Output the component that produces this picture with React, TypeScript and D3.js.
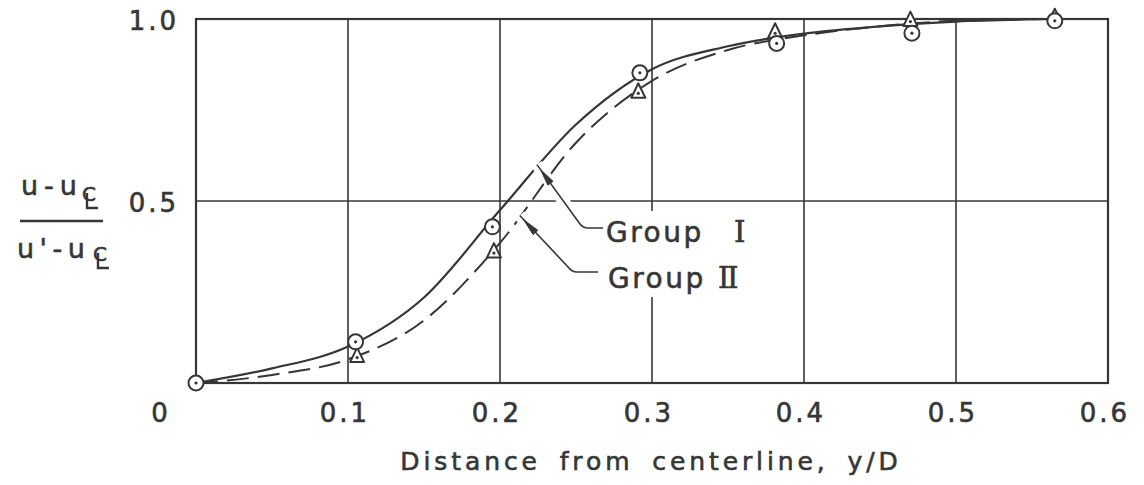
import React from 'react';
import * as d3 from 'd3';

// Normalised velocity defect across the jet, two groups of runs.
const W = 1144;
const H = 485;

const xTickValues = [0, 0.1, 0.2, 0.3, 0.4, 0.5, 0.6];
const xTickLabels = ['0', '0.1', '0.2', '0.3', '0.4', '0.5', '0.6'];
const xGridValues = [0.1, 0.2, 0.3, 0.4, 0.5];
const yTickValues = [0.5, 1.0];
const yTickLabels = ['0.5', '1.0'];
const yGridValues = [0.5];

// Measured points, Group I (circles)
const groupIX = [0, 0.105, 0.195, 0.292, 0.382, 0.471, 0.565];
const groupIY = [0, 0.113, 0.429, 0.852, 0.933, 0.961, 0.995];
// Measured points, Group II (triangles)
const groupIIX = [0.106, 0.196, 0.291, 0.381, 0.47, 0.565];
const groupIIY = [0.074, 0.361, 0.8, 0.965, 0.997, 1.005];

// Faired curves through each group
const fitIX = [0, 0.05, 0.1, 0.15, 0.2, 0.25, 0.3, 0.35, 0.4, 0.45, 0.5, 0.565];
const fitIY = [0, 0.04, 0.1, 0.235, 0.475, 0.71, 0.862, 0.925, 0.96, 0.98, 0.993, 1.0];
const fitIIX = [0, 0.05, 0.1, 0.15, 0.2, 0.25, 0.3, 0.35, 0.4, 0.45, 0.5, 0.565];
const fitIIY = [0, 0.022, 0.065, 0.172, 0.385, 0.66, 0.83, 0.915, 0.955, 0.98, 0.995, 1.0];

// Label arrows: point on curve the arrow touches
const arrowTargetsX = [0.2243, 0.213];
const arrowTargetsY = [0.6, 0.46];
const seriesNames = ['Group', 'Group'];
const seriesNumerals = ['I', 'II'];

const xTitle = 'Distance from centerline, y/D';

const INK = '#363636';
const FONT = '"DejaVu Sans", sans-serif';
const SERIF = '"DejaVu Serif", serif';

export default function App() {
  const x = d3.scaleLinear().domain([0, 0.6]).range([196, 1108]);
  const y = d3.scaleLinear().domain([0, 1]).range([383, 19]);

  const lineGen = d3
    .line<[number, number]>()
    .x((d) => x(d[0]))
    .y((d) => y(d[1]))
    .curve(d3.curveMonotoneX);

  const fitI = fitIX.map((v, i) => [v, fitIY[i]] as [number, number]);
  const fitII = fitIIX.map((v, i) => [v, fitIIY[i]] as [number, number]);

  const ptsI = groupIX.map((v, i) => ({ cx: x(v), cy: y(groupIY[i]) }));
  const ptsII = groupIIX.map((v, i) => ({ cx: x(v), cy: y(groupIIY[i]) }));

  // Label leaders: text anchor, elbow, then straight run to the curve
  const labels = seriesNames.map((name, i) => {
    const tx = x(arrowTargetsX[i]);
    const ty = y(arrowTargetsY[i]);
    const baseY = i === 0 ? 242 : 288;
    const rowY = i === 0 ? 228 : 272;
    const elbowX = i === 0 ? 583 : 572;
    const startX = i === 0 ? 603 : 598;
    const textX = i === 0 ? 606 : 608;
    const dx = tx - elbowX;
    const dy = ty - rowY;
    const len = Math.hypot(dx, dy);
    const ux = dx / len;
    const uy = dy / len;
    const tipX = tx - ux * 6;
    const tipY = ty - uy * 6;
    const backX = tipX - ux * 17;
    const backY = tipY - uy * 17;
    const px = -uy * 3.2;
    const py = ux * 3.2;
    return {
      name,
      numeral: seriesNumerals[i],
      baseY,
      textX,
      path: `M${startX},${rowY} L${elbowX + 5},${rowY} Q${elbowX},${rowY} ${elbowX - 3},${rowY - 4} L${tx},${ty}`,
      arrow: `M${tipX},${tipY} L${backX + px},${backY + py} L${backX - px},${backY - py} Z`,
    };
  });

  const tri = (cx: number, cy: number) =>
    `M${cx},${cy - 8.5} L${cx + 7},${cy + 6} L${cx - 7},${cy + 6} Z`;

  // Centre-line mark: a "C" with an "L" stroke laid across its lower right
  const clMark = (cx: number, baseY: number, key: string) => (
    <g key={key}>
      <text x={cx} y={baseY} fontSize={20} {...textStyle}>
        C
      </text>
      <path
        d={`M${cx + 5},${baseY - 8} L${cx + 5},${baseY + 7} L${cx + 16},${baseY + 7}`}
        fill="none"
        stroke={INK}
        strokeWidth={2.4}
      />
    </g>
  );

  const textStyle = { fill: INK, stroke: INK, strokeWidth: 0.6 };

  return (
    <svg
      width={W}
      height={H}
      style={{ position: 'absolute', left: 0, top: 0, background: '#fff' }}
      fontFamily={FONT}
    >
      <rect x={0} y={0} width={W} height={H} fill="#fff" />

      {/* grid */}
      {xGridValues.map((v) => (
        <line key={`gx${v}`} x1={x(v)} x2={x(v)} y1={y(1)} y2={y(0)} stroke={INK} strokeWidth={1.6} />
      ))}
      {yGridValues.map((v) => (
        <line key={`gy${v}`} x1={x(0)} x2={x(0.6)} y1={y(v)} y2={y(v)} stroke={INK} strokeWidth={1.3} />
      ))}

      {/* frame */}
      <rect
        x={x(0)}
        y={y(1)}
        width={x(0.6) - x(0)}
        height={y(0) - y(1)}
        fill="none"
        stroke={INK}
        strokeWidth={2.2}
      />

      {/* label backdrop */}
      <rect x={600} y={211} width={150} height={86} fill="#fff" />

      {/* curves */}
      <path d={lineGen(fitII) || ''} fill="none" stroke={INK} strokeWidth={2} strokeDasharray="22 9" />
      <path d={lineGen(fitI) || ''} fill="none" stroke={INK} strokeWidth={2.2} />

      {/* leaders */}
      {labels.map((l, i) => (
        <g key={`lead${i}`}>
          <path d={l.path} fill="none" stroke="#fff" strokeWidth={12} />
          <path d={l.path} fill="none" stroke={INK} strokeWidth={1.6} />
          <path d={l.arrow} fill={INK} stroke={INK} strokeWidth={1} />
          <text x={l.textX} y={l.baseY} fontSize={28} letterSpacing={2.5} {...textStyle}>
            {l.name}
          </text>
          <text
            x={i === 0 ? 738.5 : 727}
            y={l.baseY}
            fontSize={29}
            fontFamily={SERIF}
            letterSpacing={-2.5}
            textAnchor="middle"
            {...textStyle}
          >
            {l.numeral}
          </text>
        </g>
      ))}

      {/* markers */}
      {ptsII.map((p, i) => (
        <g key={`t${i}`}>
          <path d={tri(p.cx, p.cy)} fill="#fff" stroke={INK} strokeWidth={2} strokeLinejoin="round" />
          <circle cx={p.cx} cy={p.cy + 1.5} r={1.6} fill={INK} />
        </g>
      ))}
      {ptsI.map((p, i) => (
        <g key={`c${i}`}>
          <circle cx={p.cx} cy={p.cy} r={7.5} fill="#fff" stroke={INK} strokeWidth={2} />
          <circle cx={p.cx} cy={p.cy} r={1.6} fill={INK} />
        </g>
      ))}

      {/* x tick labels */}
      {xTickValues.map((v, i) => (
        <text
          key={`xl${v}`}
          x={v === 0 ? x(0) - 35 : x(v) - 3}
          y={422}
          fontSize={26}
          letterSpacing={3}
          textAnchor="middle"
          {...textStyle}
        >
          {xTickLabels[i]}
        </text>
      ))}

      {/* y tick labels */}
      {yTickValues.map((v, i) => (
        <text
          key={`yl${v}`}
          x={154}
          y={y(v) + 11}
          fontSize={26}
          letterSpacing={3}
          textAnchor="middle"
          {...textStyle}
        >
          {yTickLabels[i]}
        </text>
      ))}

      {/* x title */}
      <text
        x={651}
        y={470}
        fontSize={25}
        letterSpacing={3.9}
        wordSpacing={7}
        textAnchor="middle"
        {...textStyle}
      >
        {xTitle}
      </text>

      {/* y title: (u - u℄) / (u' - u℄) */}
      <g>
        <text x={21} y={195} fontSize={27} letterSpacing={6} {...textStyle}>
          u-u
        </text>
        {clMark(82, 201, 'cl-top')}
        <line x1={20} x2={103} y1={221} y2={221} stroke={INK} strokeWidth={2.4} />
        <text x={17} y={258} fontSize={27} letterSpacing={5.5} {...textStyle}>
          u'-u
        </text>
        {clMark(93, 261, 'cl-bottom')}
      </g>
    </svg>
  );
}
